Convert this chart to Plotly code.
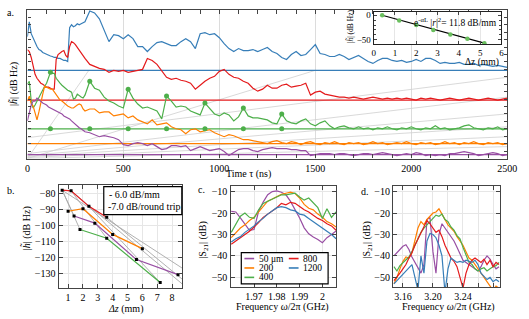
import numpy as np
import plotly.graph_objects as go

W, H = 529, 319
FONT = "Liberation Serif"
C_BLUE, C_RED, C_GREEN, C_ORANGE, C_PURPLE = "#377eb8", "#e41a1c", "#4daf4a", "#ff7f00", "#984ea3"

# ---------------- panel a : time traces ----------------
tau_ns = list(range(0, 301, 10)) + list(range(325, 2501, 25))

h_1200 = [123, 138, 126, 121, 117, 113, 110, 109, 107, 106, 105, 104, 103.5, 103, 102, 102, 101, 101, 100, 99, 99, 98,
          132, 135, 133, 134, 136, 135, 136, 137, 138,
          149, 147, 141, 130, 118, 125, 124, 121, 125, 121,
          113, 113, 108, 113, 117, 118, 116, 114, 114, 118,
          121, 118, 111, 126, 127, 125, 126, 122, 116, 111,
          108, 111, 109, 109, 110, 108, 110, 112, 108, 106,
          102, 100, 105, 108, 104, 105, 110, 115, 106, 105,
          103, 103, 105, 103, 100, 102, 104, 101, 98, 96,
          99, 101, 101, 99, 98, 99, 97, 98, 100, 98,
          101, 101, 99, 96, 97, 96, 96, 97, 95, 95,
          96, 94, 95, 94, 93, 94, 93, 92]
h_800 = [110, 108, 102, 94, 85, 81, 78, 76, 75, 73, 72, 72, 71, 70, 70, 100, 105, 107, 108, 109, 104, 102,
         113, 118, 117, 115, 112, 110, 107, 104, 101,
         95, 93, 91, 90, 87, 89, 88, 89, 87, 88,
         89, 90, 101, 99, 95, 89, 82, 80, 81, 79,
         78, 76, 70, 74, 78, 81, 83, 88, 90, 85,
         82, 81, 78, 76, 71, 68, 70, 74, 71, 71,
         74, 75, 72, 73, 74, 76, 64, 67, 68, 65,
         64, 63, 62, 62, 61, 62, 61, 60, 61, 62,
         61, 60, 61, 60, 61, 60, 61, 60, 59, 61,
         60, 61, 60, 59, 60, 61, 60, 59, 60, 61,
         60, 59, 60, 61, 60, 59, 60, 61]
h_400 = [75, 78, 58, 51, 54, 58, 61, 66, 69, 73, 76, 82, 87, 86, 86, 81, 78, 76, 74, 72, 70, 69,
         68, 67, 60, 61, 65, 63, 62, 61, 64,
         78, 71, 69, 62, 58, 56, 53, 51, 70, 61,
         55, 51, 52, 50, 48, 40, 63, 58, 52, 53,
         52, 48, 46, 44, 56, 50, 45, 43, 46, 44,
         38, 42, 51, 43, 41, 41, 40, 39, 36, 35,
         45, 38, 36, 35, 38, 40, 35, 33, 36, 38,
         33, 30, 32, 33, 31, 30, 32, 30, 31, 29,
         31, 30, 32, 30, 29, 31, 30, 32, 30, 29,
         31, 30, 33, 30, 31, 29, 30, 31, 33, 34,
         31, 30, 29, 31, 30, 32, 29, 30]
h_200 = [58, 63, 55, 53, 46, 39, 47, 57, 65, 73, 72, 71, 70, 70, 67, 64, 61, 59, 58, 56, 55, 53,
         52, 51, 51, 53, 54, 55, 54, 50, 48,
         50, 50, 46, 47, 47, 43, 44, 45, 41, 43,
         39, 37, 35, 39, 34, 35, 36, 32, 30, 29,
         25, 29, 30, 27, 28, 29, 26, 24, 22, 24,
         23, 21, 19, 19, 18, 17, 16, 15, 17, 18,
         16, 15, 17, 16, 14, 16, 17, 15, 14, 16,
         15, 17, 15, 14, 16, 15, 16, 14, 15, 17,
         15, 16, 14, 15, 16, 15, 17, 15, 14, 16,
         15, 16, 14, 15, 17, 15, 16, 14, 16, 15,
         17, 15, 14, 16, 15, 16, 14, 15]
h_50 = [38, 46, 54, 58, 58, 61, 59, 57, 56, 55, 54, 52, 51, 50, 49, 48, 47, 46, 45, 43, 42, 41,
        40, 38, 36, 35, 33, 31, 30, 28, 27,
        26, 24, 22, 23, 22, 21, 19, 14, 13, 15,
        16, 15, 13, 15, 12, 9, 10, 13, 13, 12,
        13, 8, 10, 12, 10, 8, 9, 10, 7, 3,
        6, 9, 10, 10, 8, 7, 9, 10, 11, 10,
        10, 10, 9, 9, 8, 8, 3, 4, 5, 5,
        5, 4, 5, 5, 4, 3, 4, 5, 5, 4,
        5, 6, 5, 4, 3, 4, 5, 4, 6, 5,
        3, 4, 3, 4, 3, 5, 5, 6, 7, 6,
        5, 3, 4, 5, 6, 5, 3, 4]

floor_1200, floor_800, floor_400, floor_200, floor_50 = 89, 59, 30, 15, 4

echo_tau = [120, 325, 525, 725, 925, 1125, 1325]
echo_h = [87, 78, 70, 63, 56, 51, 45]

# guide lines: (tau0, h0, tau1, h1)
guide_lines = [(0, 0, 320, 89), (0, 0, 1500, 89), (0, 21, 2500, 82), (0, 5, 2500, 62),
               (0, 3, 2500, 45), (0, 2, 2500, 32), (0, 1, 2500, 22), (0, 0, 2500, 12)]

# inset
inset_dz = [0.4, 1.2, 2.0, 2.8, 3.6, 4.4, 5.2]
inset_h = [0, -11, -20, -30, -39, -48, -57]
inset_slope = -11.8

# ---------------- panel b ----------------
b_red_z, b_red_h = [0.6, 1.2, 2.4, 3.6], [-77.7, -78.1, -87.9, -94.8]
b_orange_z, b_orange_h = [1.0, 2.0, 4.0, 6.0], [-91, -89.4, -105.6, -114.6]
b_purple_z, b_purple_h = [1.4, 2.8, 5.6, 8.4], [-94, -98.5, -121.5, -131]
b_green_z, b_green_h = [1.8, 3.6, 7.2], [-102.5, -108, -136]
b_guides = [(0.6, -77.7, 1.8, -102.5), (1.2, -78.1, 3.6, -108), (2.4, -87.9, 7.2, -136),
            (3.6, -94.8, 8.7, -134), (0.6, -77.7, 8.7, -127), (1.2, -78.1, 8.7, -137),
            (0.6, -77.7, 1.4, -94)]

# ---------------- panel c ----------------
fc = np.linspace(1.960, 2.006, 24)
c_50 = [-19.2, -19.5, -22.3, -25.4, -28.1, -27.7, -19.2, -14.9, -11.5, -10, -9.7, -10.3, -11.5, -14.6, -18.4,
        -22.3, -26.9, -29.7, -31.2, -32.3, -33.8, -31.5, -30, -28.4]
c_200 = [-31.5, -29, -27, -25.5, -23.5, -22, -19.5, -16.5, -14.5, -13.5, -12.5, -11.3, -10.8, -10.3, -10.9,
         -13, -16, -17.8, -18.5, -20.5, -22, -24, -25, -26.5]
c_400 = [-29, -25.5, -21.5, -20, -22, -22.5, -18.5, -15.5, -14.5, -13.5, -12.3, -11.5, -11.5, -11, -10.7,
         -12.5, -14, -13, -15.5, -17.5, -22.5, -18, -22, -19.5]
c_800 = [-34.5, -33, -31.5, -30, -28.5, -26.5, -24.5, -22, -20.5, -19, -17.5, -15.5, -16.2, -15, -15.5,
         -17, -18.5, -19.5, -21, -22.5, -23.5, -25, -26, -28]
c_1200 = [-33.5, -32, -31, -29, -27.5, -26, -24, -22.5, -20.5, -19, -17.5, -17, -17.5, -18.5, -19,
          -20.5, -21, -22.5, -24, -25.5, -27, -28.5, -30, -32]

# ---------------- panel d ----------------
fd = np.linspace(3.148, 3.288, 36)
d_50 = [-40, -38.5, -37, -35.5, -34.8, -37, -40.5, -43, -45, -48, -44, -23, -22, -38, -48, -30, -25, -27,
        -29, -31, -33, -36, -39, -42, -43, -44, -45, -46, -47, -45, -42, -40, -41.5, -44, -46, -45]
d_200 = [-53, -50, -46, -42.5, -40.5, -41, -38.5, -33, -27, -24, -25.5, -23, -21.5, -20, -19.5, -18, -20.5,
         -23, -25.5, -27, -28.5, -31, -33, -35, -38, -41, -42, -44, -46, -48, -50, -52, -54, -56, -54, -55]
d_400 = [-45, -47, -44.5, -43, -42, -40.5, -38, -35, -32, -29, -27, -25.5, -24, -22.5, -21, -21.5, -20.5,
         -23, -24, -26.5, -28, -30.5, -32, -36, -40, -43, -44, -46, -47, -46, -45.5, -47, -46, -45, -44.5, -43]
d_800 = [-51.5, -50, -48, -46, -44, -41, -38.5, -35, -32, -29, -26, -23.5, -25, -27, -29, -28, -31, -35,
         -38, -41, -42.5, -45, -50, -55, -48, -44, -42, -41, -42, -43, -41.5, -44, -42, -45, -43, -44]
d_1200 = [-53, -51.5, -50, -48, -46.5, -45, -44, -50, -56, -40, -48, -33, -29.5, -30, -31.5, -35, -40, -57,
          -46, -41, -42, -43, -42.5, -43, -42, -42.5, -43, -42, -44, -48, -49.5, -51, -50, -52, -51, -52]

legend_labels = ["50 \u03bcm", "200", "400", "800", "1200"]
d_tick_major = [3.16, 3.20, 3.24]
d_tick_label = ["3.16", "3.20", "3.24"]
d_tick_minor = [3.18, 3.22, 3.26, 3.28]

# ---------------------------------------------------------------------------
def px(x):
    return x / W


def py(y):
    return 1 - y / H


fig = go.Figure()


def line(x, y, color, width=1.1, ax="", mode="lines", **kw):
    fig.add_trace(go.Scatter(x=x, y=y, mode=mode, line=dict(color=color, width=width),
                             xaxis="x" + ax, yaxis="y" + ax, showlegend=False, hoverinfo="skip", **kw))


# panel a
for t0, v0, t1, v1 in guide_lines:
    line([t0, t1], [v0, v1], "#cfcfcf", 0.8)
for lvl, col in [(floor_1200, C_BLUE), (floor_800, C_RED), (floor_400, C_GREEN), (floor_200, C_ORANGE),
                 (floor_50, C_PURPLE)]:
    line([0, 2500], [lvl, lvl], col, 1.3)
for series, col in [(h_1200, C_BLUE), (h_800, C_RED), (h_400, C_GREEN), (h_200, C_ORANGE), (h_50, C_PURPLE)]:
    line(tau_ns, series, col, 1.2)
fig.add_trace(go.Scatter(x=echo_tau, y=echo_h, mode="markers", marker=dict(color=C_GREEN, size=5),
                         xaxis="x", yaxis="y", showlegend=False, hoverinfo="skip"))
fig.add_trace(go.Scatter(x=echo_tau, y=[floor_400] * len(echo_tau), mode="markers",
                         marker=dict(color=C_GREEN, size=5), xaxis="x", yaxis="y", showlegend=False,
                         hoverinfo="skip"))

# inset
fit_x = [inset_dz[0], inset_dz[-1]]
fit_y = [inset_h[0], inset_h[0] + inset_slope * (inset_dz[-1] - inset_dz[0])]
line(fit_x, fit_y, "black", 1.1, ax="2")
fig.add_trace(go.Scatter(x=inset_dz, y=inset_h, mode="markers", marker=dict(color="#6abf5e", size=4.5),
                         xaxis="x2", yaxis="y2", showlegend=False, hoverinfo="skip"))

# panel b
for z0, h0, z1, h1 in b_guides:
    line([z0, z1], [h0, h1], "#a8a8a8", 0.9, ax="3")
for zz, hh, col in [(b_red_z, b_red_h, C_RED), (b_orange_z, b_orange_h, C_ORANGE),
                    (b_purple_z, b_purple_h, C_PURPLE), (b_green_z, b_green_h, C_GREEN)]:
    fig.add_trace(go.Scatter(x=zz, y=hh, mode="lines+markers", line=dict(color=col, width=1.2),
                             marker=dict(color="black", size=3, symbol="square"),
                             xaxis="x3", yaxis="y3", showlegend=False, hoverinfo="skip"))

# panel c & d
cols = [C_PURPLE, C_ORANGE, C_GREEN, C_RED, C_BLUE]
for series, col in zip([c_50, c_200, c_400, c_800, c_1200], cols):
    line(fc, series, col, 1.2, ax="4")
for series, col in zip([d_50, d_200, d_400, d_800, d_1200], cols):
    line(fd, series, col, 1.2, ax="5")


def axis(**kw):
    base = dict(showline=True, linecolor="#444", linewidth=1.4, mirror="ticks", ticks="inside", ticklen=4,
                tickcolor="#444", zeroline=False, showgrid=True, gridcolor="#e6e6e6", gridwidth=0.8,
                tickfont=dict(family=FONT, size=10, color="black"))
    base.update(kw)
    return base


minor_inside = dict(ticks="inside", ticklen=4, tickcolor="#444", showgrid=False)

layout = dict(
    width=W, height=H, margin=dict(l=0, r=0, t=0, b=0), autosize=False,
    paper_bgcolor="white", plot_bgcolor="white", showlegend=False,
    font=dict(family=FONT, size=10, color="black"),
    xaxis=axis(domain=[px(25), px(517)], range=[0, 2500], dtick=500, tick0=0, anchor="y",
               minor=dict(dtick=100, **minor_inside), gridcolor="#dcdcdc"),
    yaxis=axis(domain=[py(158), py(8)], range=[0, 150], dtick=7.5, tick0=0, showticklabels=False,
               showgrid=False, anchor="x", ticklen=3),
    xaxis2=axis(domain=[px(380), px(511)], range=[0, 6], dtick=1, anchor="y2", ticklen=3,
                tickfont=dict(family=FONT, size=9, color="black"), linewidth=1.2, linecolor="#222"),
    yaxis2=axis(domain=[py(42.7), py(10)], range=[-59, 6.6], tickvals=[0, -50], anchor="x2", ticklen=3,
                tickfont=dict(family=FONT, size=9, color="black"), showgrid=False, linewidth=1.2,
                linecolor="#222", minor=dict(dtick=10, ticks="inside", ticklen=2, tickcolor="#444",
                                             showgrid=False)),
    xaxis3=axis(domain=[px(57), px(184)], range=[0.36, 8.7], dtick=1, anchor="y3"),
    yaxis3=axis(domain=[py(289), py(185)], range=[-139.6, -74.6], dtick=10, anchor="x3"),
    xaxis4=axis(domain=[px(233.3), px(341.7)], range=[1.9597, 2.0061], tickvals=[1.97, 1.98, 1.99, 2.0],
                ticktext=["1.97", "1.98", "1.99", "2"], anchor="y4"),
    yaxis4=axis(domain=[py(288), py(185.3)], range=[-54.6, -7.2], dtick=10, anchor="x4"),
    xaxis5=axis(domain=[px(400), px(509.3)], range=[3.147, 3.289], tickvals=d_tick_major,
                ticktext=d_tick_label, anchor="y5",
                minor=dict(tickvals=d_tick_minor, ticks="inside", ticklen=4, tickcolor="#444", showgrid=True,
                           gridcolor="#e6e6e6", gridwidth=0.8)),
    yaxis5=axis(domain=[py(288), py(185.3)], range=[-54.6, -7.2], dtick=10, anchor="x5"),
)
fig.update_layout(**layout)


def ann(text, x, y, size=10, xanchor="center", yanchor="middle", angle=0):
    fig.add_annotation(text=text, x=px(x), y=py(y), xref="paper", yref="paper", showarrow=False,
                       font=dict(family=FONT, size=size, color="black"), xanchor=xanchor, yanchor=yanchor,
                       textangle=angle)


H_LABEL = "|<i>h\u0303</i>| (dB Hz)"
S_LABEL = "|S<sub>21</sub>| (dB)"
F_LABEL = "Frequency <i>\u03c9</i>/2\u03c0 (GHz)"

ann("a.", 2, 11, 10, xanchor="left")
ann("b.", 2, 190, 10, xanchor="left")
ann("c.", 198, 189, 10, xanchor="left")
ann("d.", 365, 191, 10, xanchor="left")
ann(H_LABEL, 11, 83, 10, angle=-90)
ann("Time \u03c4 (ns)", 252, 174, 10)
ann(H_LABEL, 24, 228, 10, angle=-90)
ann("<i>\u0394z</i> (mm)", 126, 310, 10)
ann(S_LABEL, 206, 240, 10, angle=-90)
ann(F_LABEL, 287, 308, 10)
ann(S_LABEL, 374, 240, 10, angle=-90)
ann(F_LABEL, 457, 308, 10)
# inset texts
ann(H_LABEL, 356, 24, 7.5, angle=-90)
ann("\u0394z (mm)", 491, 61, 9.5)
ann("e<sup>-\u03b1L</sup> |<i>r</i>|<sup>2</sup>= 11.8 dB/mm", 464, 20, 9.5)

# panel b legend box
fig.add_shape(type="rect", xref="paper", yref="paper", x0=px(103.3), x1=px(183.3), y0=py(214.7), y1=py(186.3),
              line=dict(color="black", width=1.2), fillcolor="white", layer="above")
ann("- 6.0 dB/mm", 107, 194.5, 10, xanchor="left")
ann("-7.0 dB/round trip", 106, 206.5, 10, xanchor="left")

# panel c legend
fig.add_shape(type="rect", xref="paper", yref="paper", x0=px(244.3), x1=px(333.3), y0=py(284.5), y1=py(253),
              line=dict(color="black", width=1.2), fillcolor="white", layer="above")
legend_pos = [(247.5, 259), (247.5, 268.5), (247.5, 278), (293, 259), (293, 268.5)]
for lab, col, (lx, ly) in zip(legend_labels, cols, legend_pos):
    fig.add_shape(type="line", xref="paper", yref="paper", x0=px(lx), x1=px(lx + 10), y0=py(ly), y1=py(ly),
                  line=dict(color=col, width=1.6), layer="above")
    ann(lab, lx + 13, ly, 9.5, xanchor="left")

fig.write_html("out.html")
